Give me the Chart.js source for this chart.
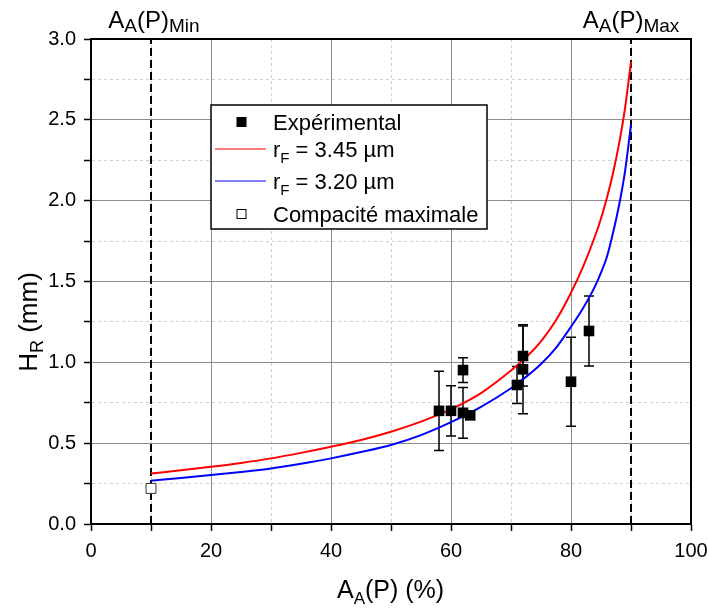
<!DOCTYPE html>
<html>
<head>
<meta charset="utf-8">
<script src="https://cdn.jsdelivr.net/npm/chart.js@4"></script>
<style>
  body { margin: 0; background: #fff; }
</style>
</head>
<body>
<canvas id="hrChart" width="709" height="608"></canvas>
<script>
// Points expérimentaux (A_A(P) en %, H_R en mm, demi-barre d'erreur)
const expX = [58, 60, 62, 62, 63.2, 71, 72, 72, 80, 83];
const expY = [0.70, 0.70, 0.952, 0.688, 0.672, 0.86, 1.039, 0.957, 0.88, 1.194];
const expErr = [0.245, 0.155, 0.077, 0.157, 0, 0.115, 0.185, 0.275, 0.275, 0.217];

// Compacité maximale
const compX = [10];
const compY = [0.22];

// Courbes modèle
const fitX = [10, 15, 20, 25, 30, 35, 40, 45, 50, 55, 60, 65, 70, 72.5, 75, 77.5, 80, 82, 84, 85, 86, 87, 88, 89, 90];
const redY = [0.313, 0.332, 0.354, 0.378, 0.406, 0.44, 0.478, 0.52, 0.571, 0.633, 0.71, 0.81, 0.95, 1.03, 1.13, 1.26, 1.43, 1.59, 1.78, 1.89, 2.02, 2.17, 2.35, 2.57, 2.86];
const blueY = [0.268, 0.285, 0.303, 0.322, 0.344, 0.373, 0.406, 0.445, 0.489, 0.55, 0.63, 0.725, 0.84, 0.91, 0.99, 1.09, 1.22, 1.335, 1.47, 1.555, 1.655, 1.8, 1.97, 2.18, 2.47];

// Limites A_A(P) min / max (lignes pointillées)
const limitX = [10, 90];
const limitY = [0, 3];

const FONT = '"Liberation Sans", Arial, sans-serif';

const pts = (xs, ys) => xs.map((x, i) => ({ x: x, y: ys[i] }));

// Texte avec indices : parts = [[texte, taille, decalageY], ...]
function drawParts(ctx, parts, x, y, align) {
  let w = 0;
  parts.forEach(p => { ctx.font = p[1] + 'px ' + FONT; w += ctx.measureText(p[0]).width; });
  let cx = align === 'center' ? x - w / 2 : x;
  ctx.textAlign = 'left';
  ctx.textBaseline = 'alphabetic';
  parts.forEach(p => {
    ctx.font = p[1] + 'px ' + FONT;
    ctx.fillText(p[0], cx, y + (p[2] || 0));
    cx += ctx.measureText(p[0]).width;
  });
}

const errorBars = {
  id: 'errorBars',
  beforeDatasetsDraw(chart) {
    const { ctx, scales: { x, y } } = chart;
    ctx.save();
    ctx.strokeStyle = '#000';
    ctx.lineWidth = 1.5;
    expX.forEach((v, i) => {
      if (!expErr[i]) return;
      const px = x.getPixelForValue(v);
      const top = y.getPixelForValue(expY[i] + expErr[i]);
      const bot = y.getPixelForValue(expY[i] - expErr[i]);
      ctx.beginPath();
      ctx.moveTo(px, top); ctx.lineTo(px, bot);
      ctx.moveTo(px - 5, top); ctx.lineTo(px + 5, top);
      ctx.moveTo(px - 5, bot); ctx.lineTo(px + 5, bot);
      ctx.stroke();
    });
    ctx.restore();
  }
};

const decorations = {
  id: 'decorations',
  afterDraw(chart) {
    const { ctx, chartArea: a, scales: { x } } = chart;
    ctx.save();
    // cadre
    ctx.strokeStyle = '#000';
    ctx.lineWidth = 2;
    ctx.strokeRect(a.left, a.top, a.right - a.left, a.bottom - a.top);

    ctx.fillStyle = '#000';
    // étiquettes min / max
    drawParts(ctx, [['A', 24], ['A', 19, 4], ['(P)', 24], ['Min', 19, 4]], x.getPixelForValue(limitX[0]) + 3, 28, 'center');
    drawParts(ctx, [['A', 24], ['A', 19, 4], ['(P)', 24], ['Max', 19, 4]], x.getPixelForValue(limitX[1]), 28, 'center');

    // titre axe x
    drawParts(ctx, [['A', 25], ['A', 17, 6], ['(P) (%)', 25]], 337, 598, 'left');

    // titre axe y
    ctx.save();
    ctx.translate(37, 322);
    ctx.rotate(-Math.PI / 2);
    drawParts(ctx, [['H', 26], ['R', 18, 6], [' (mm)', 26]], 0, 0, 'center');
    ctx.restore();

    // légende
    const lx = 211, ly = 105, lw = 276, lh = 124;
    ctx.fillStyle = '#fff';
    ctx.fillRect(lx, ly, lw, lh);
    ctx.strokeStyle = '#000';
    ctx.lineWidth = 1.5;
    ctx.strokeRect(lx, ly, lw, lh);

    const rows = [122, 149, 181, 214];
    const symX = 241.5, txtX = 273;
    // carré plein
    ctx.fillStyle = '#000';
    ctx.fillRect(symX - 5, rows[0] - 5, 10, 10);
    // lignes
    ctx.lineWidth = 1.2;
    ctx.strokeStyle = '#ff0000';
    ctx.beginPath(); ctx.moveTo(215, rows[1]); ctx.lineTo(266, rows[1]); ctx.stroke();
    ctx.strokeStyle = '#0000ff';
    ctx.beginPath(); ctx.moveTo(215, rows[2]); ctx.lineTo(266, rows[2]); ctx.stroke();
    // carré vide
    ctx.strokeStyle = '#000';
    ctx.lineWidth = 1;
    ctx.strokeRect(symX - 4.5, rows[3] - 4.5, 9, 9);

    ctx.fillStyle = '#000';
    drawParts(ctx, [['Expérimental', 22]], txtX, rows[0] + 8, 'left');
    drawParts(ctx, [['r', 22], ['F', 15, 6], [' = 3.45 µm', 22]], txtX, rows[1] + 8, 'left');
    drawParts(ctx, [['r', 22], ['F', 15, 6], [' = 3.20 µm', 22]], txtX, rows[2] + 8, 'left');
    drawParts(ctx, [['Compacité maximale', 22]], txtX, rows[3] + 8, 'left');
    ctx.restore();
  }
};

const isMajor = (v, step) => Math.abs(v / step - Math.round(v / step)) < 1e-6;

const ctx = document.getElementById('hrChart').getContext('2d');
const hrChart = new Chart(ctx, {
  type: 'scatter',
  data: {
    datasets: [
      {
        label: 'Expérimental',
        data: pts(expX, expY),
        pointStyle: 'rect',
        pointRadius: 7.5,
        backgroundColor: '#000',
        borderColor: '#000',
        borderWidth: 0,
        order: 0
      },
      {
        label: 'Compacité maximale',
        data: pts(compX, compY),
        pointStyle: 'rect',
        pointRadius: 7,
        backgroundColor: '#fff',
        borderColor: '#333',
        borderWidth: 1,
        order: 1
      },
      {
        label: 'rF = 3.45 µm',
        data: pts(fitX, redY),
        showLine: true,
        borderColor: '#ff0000',
        borderWidth: 2,
        pointRadius: 0,
        cubicInterpolationMode: 'monotone',
        order: 2
      },
      {
        label: 'rF = 3.20 µm',
        data: pts(fitX, blueY),
        showLine: true,
        borderColor: '#0000ff',
        borderWidth: 2,
        pointRadius: 0,
        cubicInterpolationMode: 'monotone',
        order: 3
      },
      {
        label: 'Min',
        data: pts([limitX[0], limitX[0]], limitY),
        showLine: true,
        borderColor: '#000',
        borderWidth: 2,
        borderDash: [8, 4],
        pointRadius: 0,
        order: 4
      },
      {
        label: 'Max',
        data: pts([limitX[1], limitX[1]], limitY),
        showLine: true,
        borderColor: '#000',
        borderWidth: 2,
        borderDash: [8, 4],
        pointRadius: 0,
        order: 4
      }
    ]
  },
  options: {
    responsive: false,
    animation: false,
    layout: { padding: { top: 39, right: 0, left: 0, bottom: 0 } },
    plugins: {
      legend: { display: false },
      tooltip: { enabled: false }
    },
    scales: {
      x: {
        min: 0,
        max: 100,
        afterFit: s => { s.height = 84; s.paddingRight = 18; },
        border: {
          color: '#000',
          width: 2,
          dash: c => (c.tick && !isMajor(c.tick.value, 20)) ? [3, 3] : []
        },
        grid: {
          color: c => isMajor(c.tick.value, 20) ? '#8c8c8c' : '#cfcfcf',
          lineWidth: 1,
          tickColor: '#000',
          tickLength: 7,
          tickWidth: 1.5
        },
        ticks: {
          stepSize: 10,
          autoSkip: false,
          maxRotation: 0,
          padding: 8,
          color: '#000',
          font: { family: FONT, size: 20 },
          callback: v => isMajor(v, 20) ? v : ''
        }
      },
      y: {
        min: 0,
        max: 3,
        afterFit: s => { s.width = 91; },
        border: {
          color: '#000',
          width: 2,
          dash: c => (c.tick && !isMajor(c.tick.value, 0.5)) ? [3, 3] : []
        },
        grid: {
          color: c => isMajor(c.tick.value, 0.5) ? '#8c8c8c' : '#cfcfcf',
          lineWidth: 1,
          tickColor: '#000',
          tickLength: 7,
          tickWidth: 1.5
        },
        ticks: {
          stepSize: 0.25,
          autoSkip: false,
          padding: 8,
          color: '#000',
          font: { family: FONT, size: 20 },
          callback: v => isMajor(v, 0.5) ? v.toFixed(1) : ''
        }
      }
    }
  },
  plugins: [errorBars, decorations]
});
</script>
</body>
</html>
